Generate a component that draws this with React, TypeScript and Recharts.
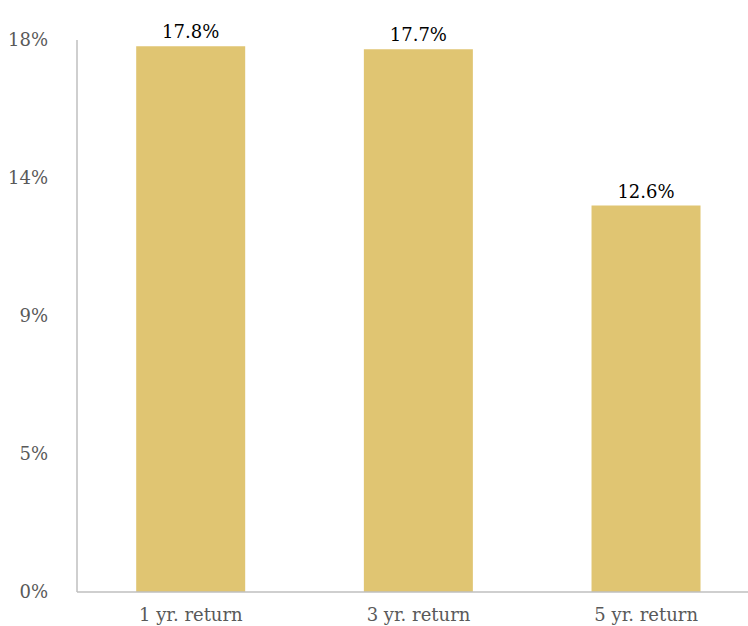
import React from 'react';
import { BarChart, Bar, XAxis, YAxis, LabelList } from 'recharts';

const categories = ['1 yr. return', '3 yr. return', '5 yr. return'];
const returns = [17.8, 17.7, 12.6];
const yTicks = [0, 4.5, 9, 13.5, 18];

const data = categories.map((name, i) => ({ name, value: returns[i] }));

const font = "'Palatino Linotype', 'Book Antiqua', Palatino, 'DejaVu Serif', serif";

export default function App() {
    return (
        <div style={{ position: 'absolute', left: 0, top: 0, width: 748, height: 626, background: '#fff', overflow: 'hidden' }}>
            <BarChart
                width={760}
                height={626}
                data={data}
                margin={{ top: 40, right: 0, bottom: 0, left: 0 }}
                barCategoryGap="26%"
                style={{ fontFamily: font }}
            >
                <XAxis
                    dataKey="name"
                    height={34}
                    tickLine={false}
                    axisLine={{ stroke: '#bfbfbf', strokeWidth: 1.5 }}
                    tick={{ fill: '#595959', fontSize: 18, fontFamily: font }}
                    tickMargin={10}
                />
                <YAxis
                    width={77}
                    domain={[0, 18]}
                    ticks={yTicks}
                    tickFormatter={(v: number) => `${Math.round(v)}%`}
                    tickLine={false}
                    axisLine={{ stroke: '#bfbfbf', strokeWidth: 1.5 }}
                    tick={{ fill: '#595959', fontSize: 18, fontFamily: font }}
                    tickMargin={23}
                />
                <Bar dataKey="value" fill="#E0C572" isAnimationActive={false}>
                    <LabelList
                        dataKey="value"
                        position="top"
                        offset={8}
                        formatter={(v: number) => `${v.toFixed(1)}%`}
                        style={{ fill: '#000', fontSize: 18, fontFamily: font }}
                    />
                </Bar>
            </BarChart>
        </div>
    );
}
